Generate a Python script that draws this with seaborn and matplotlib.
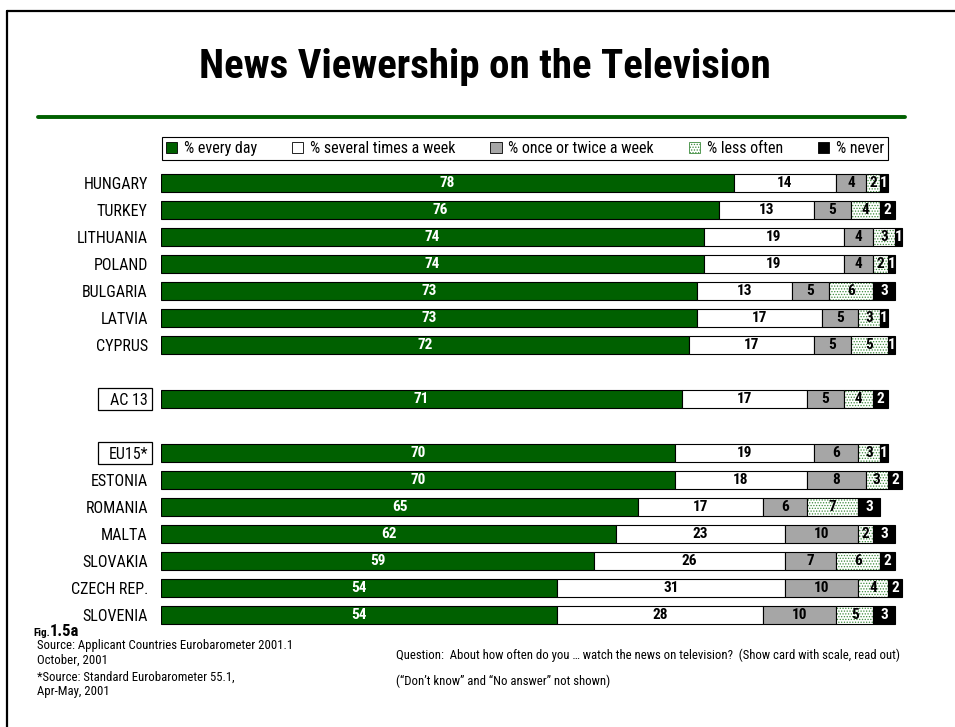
import matplotlib
matplotlib.use("Agg")
import matplotlib.pyplot as plt
import matplotlib.transforms as mtransforms
from matplotlib import font_manager as fm
from matplotlib.patches import Patch, Rectangle
from matplotlib.lines import Line2D
import numpy as np
import pandas as pd
import seaborn as sns

# ---- data -------------------------------------------------------------
countries = ["HUNGARY", "TURKEY", "LITHUANIA", "POLAND", "BULGARIA", "LATVIA",
             "CYPRUS", "AC 13", "EU15*", "ESTONIA", "ROMANIA", "MALTA",
             "SLOVAKIA", "CZECH REP.", "SLOVENIA"]
group_sizes = [7, 1, 7]          # rows per block, a blank row between blocks
boxed_labels = ["AC 13", "EU15*"]

every_day = [78, 76, 74, 74, 73, 73, 72, 71, 70, 70, 65, 62, 59, 54, 54]
several_week = [14, 13, 19, 19, 13, 17, 17, 17, 19, 18, 17, 23, 26, 31, 28]
once_twice = [4, 5, 4, 4, 5, 5, 5, 5, 6, 8, 6, 10, 7, 10, 10]
less_often = [2, 4, 3, 2, 6, 3, 5, 4, 3, 3, 7, 2, 6, 4, 5]
never = [1, 2, 1, 1, 3, 1, 1, 2, 1, 2, 3, 3, 2, 2, 3]

series_names = ["% every day", "% several times a week", "% once or twice a week",
                "% less often", "% never"]

# ---- style ------------------------------------------------------------
sns.set_theme(style="white")

# prefer a narrow sans face when one is installed
names = {f.name for f in fm.fontManager.ttflist}
family = next((n for n in ["Liberation Sans Narrow", "Arial Narrow",
                           "DejaVu Sans Condensed", "Roboto Condensed",
                           "Open Sans Condensed"] if n in names), None)
stretch = "normal"
if family is None:
    cond = [f for f in fm.fontManager.ttflist
            if f.name in ("Liberation Sans", "DejaVu Sans", "Roboto", "Open Sans", "Noto Sans")
            and str(f.stretch) in ("condensed", "semi-condensed", "extra-condensed")]
    if cond:
        family, stretch = cond[0].name, cond[0].stretch
    else:
        family = "Liberation Sans"
plt.rcParams["font.family"] = [family, "Liberation Sans", "DejaVu Sans"]
plt.rcParams["font.stretch"] = stretch
plt.rcParams["text.color"] = "black"
plt.rcParams["ytick.color"] = "black"
plt.rcParams["hatch.linewidth"] = 0.6

GREEN = "#006000"
GREY = "#a6a6a6"
DOT = "#3d8c3d"
seg_colors = [GREEN, "white", GREY, "white", "black"]
text_colors = ["white", "black", "black", "black", "white"]

# row positions with a gap between blocks
positions = []
row = 0
for size in group_sizes:
    positions.extend(range(row, row + size))
    row += size + 1

df = pd.DataFrame({"country": countries, "pos": positions,
                   "every_day": every_day, "several": several_week,
                   "once_twice": once_twice, "less_often": less_often,
                   "never": never})
cols = ["every_day", "several", "once_twice", "less_often", "never"]

fig = plt.figure(figsize=(9.55, 7.27), dpi=100)
W, H = 955, 727
XMAX = 102
unit = 7.34  # pixels per percentage point
ax = fig.add_axes([161 / W, 1 - 631.2 / H, unit * XMAX / W, 464.4 / H])

left = np.zeros(len(df))
bar_h = 0.68
for col, fc, tc in zip(cols, seg_colors, text_colors):
    if col == "less_often":
        # dotted fill first, then the outline on top
        sns.barplot(data=df, x=col, y="pos", orient="y", native_scale=True,
                    width=bar_h, color="white", saturation=1, errorbar=None,
                    left=left, edgecolor=DOT, linewidth=0, hatch="......", ax=ax)
        sns.barplot(data=df, x=col, y="pos", orient="y", native_scale=True,
                    width=bar_h, fill=False, color="black", errorbar=None,
                    left=left, linewidth=0.8, ax=ax)
    else:
        sns.barplot(data=df, x=col, y="pos", orient="y", native_scale=True,
                    width=bar_h, color=fc, saturation=1, errorbar=None,
                    left=left, edgecolor="black", linewidth=0.8, ax=ax)
    ax.bar_label(ax.containers[-1], labels=[str(v) for v in df[col]],
                 label_type="center", color=tc, fontsize=11, fontweight="bold")
    left = left + df[col].to_numpy()

ax.set_xlim(0, XMAX)
ax.set_ylim(max(positions) + 0.6, -0.6)
ax.set_xlabel("")
ax.set_ylabel("")
ax.set_xticks([])
ax.set_yticks(positions)
ax.set_yticklabels(countries, fontsize=11.5)
ax.tick_params(axis="y", length=0, pad=9.5)
for s in ax.spines.values():
    s.set_visible(False)

# framed labels for the aggregates
trans = mtransforms.blended_transform_factory(fig.transFigure, ax.transData)
for name, p in zip(countries, positions):
    if name in boxed_labels:
        ax.add_patch(Rectangle((98 / W, p - 0.41), 54 / W, 0.82,
                               transform=trans, fill=False, edgecolor="black",
                               linewidth=0.9, clip_on=False))

# legend
handles = [Patch(facecolor=GREEN, edgecolor="black", linewidth=0.6),
           Patch(facecolor="white", edgecolor="black", linewidth=0.6),
           Patch(facecolor=GREY, edgecolor="black", linewidth=0.6),
           Patch(facecolor="white", edgecolor=DOT, hatch="......", linewidth=0.6),
           Patch(facecolor="black", edgecolor="black", linewidth=0.6)]
leg = fig.legend(handles, series_names, loc="lower left",
                 bbox_to_anchor=(162 / W, 1 - 160 / H, 726 / W, 23 / H),
                 mode="expand", ncol=5, fontsize=11.5, frameon=True,
                 fancybox=False, framealpha=1, edgecolor="black",
                 handlelength=0.7, handleheight=0.7, handletextpad=0.4,
                 borderpad=0.25, borderaxespad=0)
leg.get_frame().set_linewidth(0.8)

# title and rule
fig.text(485 / W, 1 - 67 / H, "News Viewership on the Television",
         ha="center", va="center", fontsize=29.5, fontweight="bold")
fig.add_artist(Line2D([38 / W, 905 / W], [1 - 116.5 / H, 1 - 116.5 / H],
                      color=GREEN, linewidth=2.8, transform=fig.transFigure))

# page frame (top and left edges)
fig.add_artist(Line2D([7 / W, 1.0], [1 - 11 / H, 1 - 11 / H], color="black",
                      linewidth=1.6, transform=fig.transFigure))
fig.add_artist(Line2D([7 / W, 7 / W], [0, 1 - 11 / H], color="black",
                      linewidth=1.6, transform=fig.transFigure))

# footer
fig.text(33 / W, 1 - 633 / H, "Fig.", fontsize=8, fontweight="bold",
         ha="left", va="center")
fig.text(50 / W, 1 - 632 / H, "1.5a", fontsize=12, fontweight="bold",
         ha="left", va="center")
foot = 9.2
fig.text(37 / W, 1 - 646 / H, "Source: Applicant Countries Eurobarometer 2001.1",
         fontsize=foot, ha="left", va="center")
fig.text(37 / W, 1 - 660 / H, "October, 2001", fontsize=foot, ha="left", va="center")
fig.text(37 / W, 1 - 677 / H, "*Source: Standard Eurobarometer 55.1,",
         fontsize=foot, ha="left", va="center")
fig.text(37 / W, 1 - 691 / H, "Apr-May, 2001", fontsize=foot, ha="left", va="center")
fig.text(396 / W, 1 - 655 / H,
         "Question:  About how often do you \u2026 watch the news on television?  "
         "(Show card with scale, read out)",
         fontsize=foot, ha="left", va="center")
fig.text(396 / W, 1 - 681 / H,
         "(\u201cDon\u2019t know\u201d and \u201cNo answer\u201d not shown)",
         fontsize=foot, ha="left", va="center")

fig.savefig("out.png", dpi=100, facecolor="white")
